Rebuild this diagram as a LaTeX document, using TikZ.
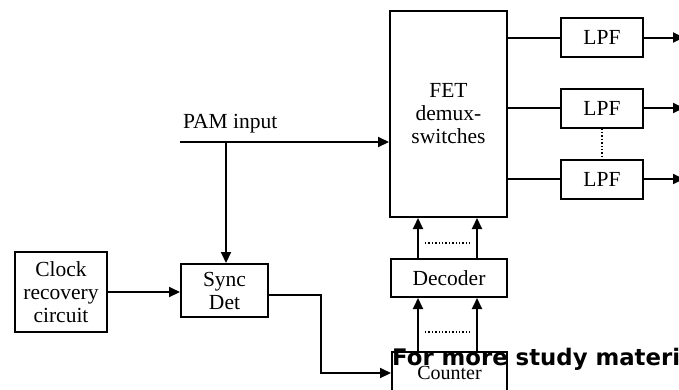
\documentclass[tikz,border=0pt]{standalone}
\usepackage{fontspec}
\setmainfont{Liberation Serif}
\newfontfamily\wmfont{DejaVu Sans}
\usetikzlibrary{arrows.meta}
\begin{document}
\begin{tikzpicture}[x=1pt,y=-1pt,
  blk/.style={draw,line width=2pt,inner sep=0pt,align=center,
    font=\fontsize{21.5}{23}\selectfont},
  conn/.style={line width=2pt},
  arr/.style={conn,-{Triangle[length=11pt,width=10pt]}},
  dots/.style={line width=1.4pt,dotted}]
\useasboundingbox (0,0) rectangle (679,389);
% blocks
\node[blk,minimum width=117,minimum height=206] (fet) at (448.5,114) {FET\\demux-\\switches};
\node[blk,minimum width=82,minimum height=39] (lpf1) at (602,37.5) {LPF};
\node[blk,minimum width=82,minimum height=39] (lpf2) at (602,108) {LPF};
\node[blk,minimum width=82,minimum height=39] (lpf3) at (602,179) {LPF};
\node[blk,minimum width=92,minimum height=80] (clk) at (61,292) {Clock\\recovery\\circuit};
\node[blk,minimum width=87,minimum height=53] (sync) at (224.5,290.5) {Sync\\Det};
\node[blk,minimum width=116,minimum height=38] (dec) at (449,278) {Decoder};
\node[blk,minimum width=115,minimum height=48] (cnt) at (449.5,376) {};
\node[font=\fontsize{20}{22}\selectfont] (cnttxt) at (449.5,373) {Counter};
% FET to LPFs
\draw[conn] (fet.east |- lpf1) -- (lpf1.west);
\draw[conn] (fet.east |- lpf2) -- (lpf2.west);
\draw[conn] (fet.east |- lpf3) -- (lpf3.west);
\coordinate (o1) at (684,37.5);
\coordinate (o2) at (684,108);
\coordinate (o3) at (684,179);
\draw[arr] (lpf1.east) -- (o1);
\draw[arr] (lpf2.east) -- (o2);
\draw[arr] (lpf3.east) -- (o3);
\draw[dots] (lpf2.south) -- (lpf3.north);
% PAM input
\coordinate (pam) at (180,142);
\coordinate (jn) at (226,142);
\node[anchor=base west,font=\fontsize{21.5}{23}\selectfont,inner sep=0pt] (pamlbl) at (183,128) {PAM input};
\draw[arr] (pam) -- (fet.west |- pam);
\draw[arr] (jn) -- (jn |- sync.north);
% clock to sync
\draw[arr] (clk.east |- 0,292) -- (sync.west |- 0,292);
% sync to counter
\coordinate (s1) at (268,295);
\coordinate (s2) at (321,295);
\coordinate (s3) at (321,373);
\draw[arr] (s1) -- (s2) -- (s3) -- (cnt.west |- s3);
% counter -> decoder -> FET
\draw[arr] (cnt.north -| 418,0) -- (dec.south -| 418,0);
\draw[arr] (cnt.north -| 477,0) -- (dec.south -| 477,0);
\draw[arr] (dec.north -| 418,0) -- (fet.south -| 418,0);
\draw[arr] (dec.north -| 477,0) -- (fet.south -| 477,0);
\coordinate (d1a) at (425,243);
\coordinate (d1b) at (470,243);
\coordinate (d2a) at (425,332);
\coordinate (d2b) at (470,332);
\draw[dots] (d1a) -- (d1b);
\draw[dots] (d2a) -- (d2b);
% watermark
\node[anchor=base west,inner sep=0pt,font=\wmfont\bfseries\fontsize{22.8}{25}\selectfont] (wm) at (392,365) {For more study materi};
\end{tikzpicture}
\end{document}
